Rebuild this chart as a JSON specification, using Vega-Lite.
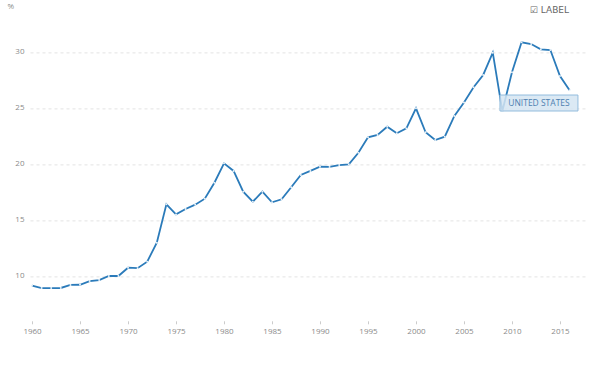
{
  "$schema": "https://vega.github.io/schema/vega-lite/v6.json",
  "autosize": {"type": "none"},
  "width": 558,
  "height": 302.4,
  "padding": {"left": 30, "top": 18.4, "right": 12, "bottom": 50},
  "background": "white",
  "config": {"view": {"stroke": null}, "font": "Open Sans"},
  "title": {"text": "☑ LABEL", "anchor": "end", "orient": "top", "frame": "group", "offset": 2, "dx": -19, "dy": 15, "fontSize": 9, "fontWeight": "normal", "color": "#666", "font": "DejaVu Sans"},
  "data": {"values": [
    {"year": 1960, "value": 9.13, "country": "UNITED STATES"},
    {"year": 1961, "value": 8.92, "country": "UNITED STATES"},
    {"year": 1962, "value": 8.92, "country": "UNITED STATES"},
    {"year": 1963, "value": 8.93, "country": "UNITED STATES"},
    {"year": 1964, "value": 9.2, "country": "UNITED STATES"},
    {"year": 1965, "value": 9.22, "country": "UNITED STATES"},
    {"year": 1966, "value": 9.55, "country": "UNITED STATES"},
    {"year": 1967, "value": 9.64, "country": "UNITED STATES"},
    {"year": 1968, "value": 10.0, "country": "UNITED STATES"},
    {"year": 1969, "value": 10.0, "country": "UNITED STATES"},
    {"year": 1970, "value": 10.74, "country": "UNITED STATES"},
    {"year": 1971, "value": 10.7, "country": "UNITED STATES"},
    {"year": 1972, "value": 11.28, "country": "UNITED STATES"},
    {"year": 1973, "value": 12.97, "country": "UNITED STATES"},
    {"year": 1974, "value": 16.4, "country": "UNITED STATES"},
    {"year": 1975, "value": 15.5, "country": "UNITED STATES"},
    {"year": 1976, "value": 15.98, "country": "UNITED STATES"},
    {"year": 1977, "value": 16.37, "country": "UNITED STATES"},
    {"year": 1978, "value": 16.9, "country": "UNITED STATES"},
    {"year": 1979, "value": 18.33, "country": "UNITED STATES"},
    {"year": 1980, "value": 20.06, "country": "UNITED STATES"},
    {"year": 1981, "value": 19.38, "country": "UNITED STATES"},
    {"year": 1982, "value": 17.53, "country": "UNITED STATES"},
    {"year": 1983, "value": 16.63, "country": "UNITED STATES"},
    {"year": 1984, "value": 17.53, "country": "UNITED STATES"},
    {"year": 1985, "value": 16.58, "country": "UNITED STATES"},
    {"year": 1986, "value": 16.85, "country": "UNITED STATES"},
    {"year": 1987, "value": 17.92, "country": "UNITED STATES"},
    {"year": 1988, "value": 19.02, "country": "UNITED STATES"},
    {"year": 1989, "value": 19.38, "country": "UNITED STATES"},
    {"year": 1990, "value": 19.76, "country": "UNITED STATES"},
    {"year": 1991, "value": 19.74, "country": "UNITED STATES"},
    {"year": 1992, "value": 19.9, "country": "UNITED STATES"},
    {"year": 1993, "value": 19.97, "country": "UNITED STATES"},
    {"year": 1994, "value": 21.0, "country": "UNITED STATES"},
    {"year": 1995, "value": 22.38, "country": "UNITED STATES"},
    {"year": 1996, "value": 22.6, "country": "UNITED STATES"},
    {"year": 1997, "value": 23.33, "country": "UNITED STATES"},
    {"year": 1998, "value": 22.74, "country": "UNITED STATES"},
    {"year": 1999, "value": 23.18, "country": "UNITED STATES"},
    {"year": 2000, "value": 24.97, "country": "UNITED STATES"},
    {"year": 2001, "value": 22.83, "country": "UNITED STATES"},
    {"year": 2002, "value": 22.14, "country": "UNITED STATES"},
    {"year": 2003, "value": 22.44, "country": "UNITED STATES"},
    {"year": 2004, "value": 24.29, "country": "UNITED STATES"},
    {"year": 2005, "value": 25.5, "country": "UNITED STATES"},
    {"year": 2006, "value": 26.85, "country": "UNITED STATES"},
    {"year": 2007, "value": 27.95, "country": "UNITED STATES"},
    {"year": 2008, "value": 29.94, "country": "UNITED STATES"},
    {"year": 2009, "value": 24.73, "country": "UNITED STATES"},
    {"year": 2010, "value": 28.19, "country": "UNITED STATES"},
    {"year": 2011, "value": 30.87, "country": "UNITED STATES"},
    {"year": 2012, "value": 30.71, "country": "UNITED STATES"},
    {"year": 2013, "value": 30.24, "country": "UNITED STATES"},
    {"year": 2014, "value": 30.18, "country": "UNITED STATES"},
    {"year": 2015, "value": 27.86, "country": "UNITED STATES"},
    {"year": 2016, "value": 26.58, "country": "UNITED STATES"}
  ]},
  "encoding": {
    "x": {"field": "year", "type": "quantitative",
      "scale": {"domain": [1959.79, 2017.92], "nice": false, "zero": false},
      "axis": {"title": null, "values": [1960, 1965, 1970, 1975, 1980, 1985, 1990, 1995, 2000, 2005, 2010, 2015], "format": "d", "grid": false, "domain": false, "tickSize": 3, "tickColor": "#ccc", "labelPadding": 4, "labelFontSize": 8, "labelColor": "#8a8a8a", "labelFont": "Open Sans"}},
    "y": {"field": "value", "type": "quantitative",
      "scale": {"domain": [6, 33], "nice": false, "zero": false},
      "axis": {"values": [10, 15, 20, 25, 30], "domain": false, "ticks": false, "labelPadding": 6, "labelFontSize": 8, "labelColor": "#8a8a8a", "labelFont": "Open Sans",
        "gridColor": "#e3e3e3", "gridDash": [3, 3], "gridWidth": 1,
        "title": "%", "titleAngle": 0, "titleX": -23, "titleY": -12, "titleAlign": "left", "titleBaseline": "middle", "titleFontSize": 8, "titleFontWeight": "normal", "titleColor": "#8a8a8a", "titleFont": "Open Sans"}}
  },
  "layer": [
    {"mark": {"type": "line", "color": "#2b7bba", "strokeWidth": 1.8}},
    {"mark": {"type": "point", "filled": true, "color": "#e8f1f8", "size": 4, "opacity": 1}},
    {"transform": [{"filter": "datum.year == 2016"}],
      "mark": {"type": "point", "shape": "M-1.785,0.121L0.215,0.121L0.215,0.531L-1.785,0.531Z", "size": 6084, "filled": true, "fill": "#d5e5f2", "stroke": "#93bcdd", "strokeWidth": 1, "opacity": 1, "fillOpacity": 0.85}},
    {"transform": [{"filter": "datum.year == 2016"}],
      "mark": {"type": "text", "dx": -30.6, "dy": 12.7, "fontSize": 8.5, "color": "#4d7fb0", "font": "Open Sans", "align": "center", "baseline": "middle"},
      "encoding": {"text": {"field": "country"}}}
  ]
}
